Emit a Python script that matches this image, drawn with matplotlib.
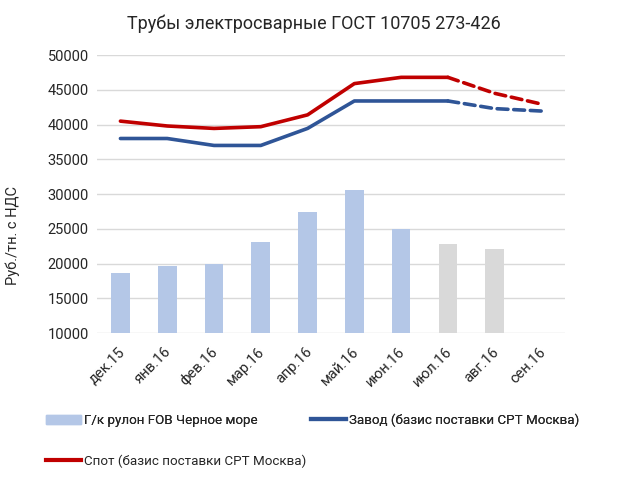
import matplotlib
matplotlib.use("Agg")
import matplotlib.pyplot as plt
import matplotlib.transforms as mtransforms
from matplotlib.patches import Patch
from matplotlib.lines import Line2D

plt.rcParams['font.family'] = ['Roboto', 'DejaVu Sans']

months = ['дек.15', 'янв.16', 'фев.16', 'мар.16', 'апр.16',
          'май.16', 'июн.16', 'июл.16', 'авг.16', 'сен.16']
coil_fob = [18600, 19700, 20000, 23100, 27400, 30600, 25000, 22800, 22100]
plant = [38000, 38000, 37000, 37000, 39450, 43400, 43400, 43400, 42300, 41950]
spot = [40500, 39800, 39450, 39700, 41400, 45900, 46800, 46800, 44500, 42950]
forecast_from = 7  # jul.16 onwards shown dashed / grey

blue_bar = '#b4c7e7'
grey_bar = '#d9d9d9'
blue_line = '#2f5597'
red_line = '#c00000'
txt = '#262626'

fig = plt.figure(figsize=(6.28, 4.92), dpi=100)
ax = fig.add_axes([0.1545, 0.323, 0.745, 0.565])

x = list(range(len(months)))
bar_colors = [blue_bar if i < forecast_from else grey_bar for i in range(len(coil_fob))]
ax.bar(x[:len(coil_fob)], [v - 10000 for v in coil_fob], bottom=10000,
       width=0.4, color=bar_colors, zorder=2)

for vals, col in [(plant, blue_line), (spot, red_line)]:
    ax.plot(x[:forecast_from + 1], vals[:forecast_from + 1], color=col,
            lw=2.6, solid_capstyle='round', zorder=3)
    ax.plot(x[forecast_from:], vals[forecast_from:], color=col, lw=2.6,
            ls=(0, (3, 1.6)), dash_capstyle='round', zorder=3)

ax.set_ylim(10000, 50000)
ax.set_xlim(-0.5, len(months) - 0.5)
ax.set_yticks(range(10000, 50001, 5000))
ax.set_xticks(x)
ax.set_xticklabels(months, rotation=45, ha='right', rotation_mode='anchor')
ax.tick_params(length=0, labelsize=10.5, colors=txt, pad=6)
ax.tick_params(axis='x', pad=4)
shift = mtransforms.ScaledTranslation(-3 / 100, -6 / 100, fig.dpi_scale_trans)
for lab in ax.get_xticklabels():
    lab.set_transform(lab.get_transform() + shift)
ax.grid(axis='y', color='#d9d9d9', lw=1, zorder=0)
for s in ax.spines.values():
    s.set_visible(False)

ax.set_ylabel('Руб./тн. с НДС', fontsize=10.5, color=txt)
ax.yaxis.set_label_coords(-0.165, 0.35)

fig.text(0.5, 0.952, 'Трубы электросварные ГОСТ 10705 273-426',
         ha='center', va='center', fontsize=13, color=txt)

leg_kw = dict(loc='upper left', frameon=False, fontsize=9.6,
              handlelength=2.65, handletextpad=0.2, borderaxespad=0,
              labelcolor=txt)
row1 = fig.legend([Patch(color=blue_bar), Line2D([], [], color=blue_line, lw=3)],
                  ['Г/к рулон FOB Черное море', 'Завод (базис поставки СРТ Москва)'],
                  ncol=2, columnspacing=4.0, bbox_to_anchor=(0.065, 0.170), **leg_kw)
fig.add_artist(row1)
fig.legend([Line2D([], [], color=red_line, lw=3)],
           ['Спот (базис поставки СРТ Москва)'],
           bbox_to_anchor=(0.065, 0.087), **leg_kw)

fig.savefig('out.png', dpi=100)
